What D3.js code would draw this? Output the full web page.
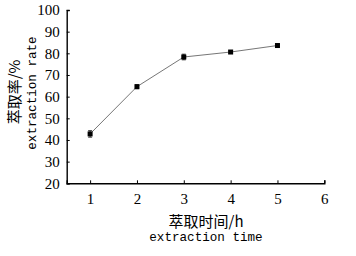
<!DOCTYPE html>
<html><head><meta charset="utf-8">
<script src="https://cdn.jsdelivr.net/npm/d3@7"></script>
<style>body{margin:0;background:#fff}</style>
</head><body>
<svg id="c" width="356" height="256"></svg>
<script>
const times = [1, 2, 3, 4, 5];
const rates = [42.8, 64.6, 78.3, 80.6, 83.6];
const errs = [1.5, 0.9, 1.3, 0.5, 0.5];
const xTicks = [1, 2, 3, 4, 5, 6];
const yTicks = [20, 30, 40, 50, 60, 70, 80, 90, 100];

const svg = d3.select("#c");
const x = d3.scaleLinear().domain([0.5, 6]).range([66.7, 324.3]);
const y = d3.scaleLinear().domain([20, 100]).range([183.3, 10]);
const numFont = "'Liberation Serif', 'DejaVu Serif', serif";

// axes
const gx = svg.append("g").attr("transform", `translate(0,${y(20)})`)
  .call(d3.axisBottom(x).tickValues(xTicks).tickSize(-3).tickPadding(10).tickFormat(d3.format("d")));
const gy = svg.append("g").attr("transform", `translate(${x(0.5)},0)`)
  .call(d3.axisLeft(y).tickValues(yTicks).tickSize(-3).tickPadding(7).tickFormat(d3.format("d")));
[gx, gy].forEach(g => {
  g.select(".domain").attr("stroke", "#000").attr("stroke-width", 1.4);
  g.selectAll(".tick line").attr("stroke", "#000").attr("stroke-width", 1);
  g.selectAll("text").attr("font-family", numFont).attr("font-size", 15).attr("fill", "#000");
});

// line
svg.append("path").datum(times.map((t, i) => [t, rates[i]]))
  .attr("fill", "none").attr("stroke", "#666").attr("stroke-width", 0.9)
  .attr("d", d3.line().x(d => x(d[0])).y(d => y(d[1])));

// error bars
const eb = svg.append("g").attr("stroke", "#222").attr("stroke-width", 0.9);
times.forEach((t, i) => {
  const cx = x(t), y1 = y(rates[i] - errs[i]), y2 = y(rates[i] + errs[i]);
  eb.append("line").attr("x1", cx).attr("x2", cx).attr("y1", y1).attr("y2", y2);
  eb.append("line").attr("x1", cx - 2).attr("x2", cx + 2).attr("y1", y1).attr("y2", y1);
  eb.append("line").attr("x1", cx - 2).attr("x2", cx + 2).attr("y1", y2).attr("y2", y2);
});

// markers
svg.append("g").selectAll("rect").data(times).join("rect")
  .attr("x", (d) => x(d) - 2.5).attr("y", (d, i) => y(rates[i]) - 2.5)
  .attr("width", 5).attr("height", 5).attr("fill", "#000");

// axis titles
const cjk = "'Noto Sans CJK SC', sans-serif";
const mono = "'Liberation Mono', 'DejaVu Sans Mono', monospace";
svg.append("text").attr("transform", "translate(20,92) rotate(-90)")
  .attr("text-anchor", "middle").attr("font-family", cjk).attr("font-size", 15).text("萃取率/%");
svg.append("text").attr("transform", "translate(36,93) rotate(-90)")
  .attr("text-anchor", "middle").attr("font-family", mono).attr("font-size", 12.6).text("extraction rate");
svg.append("text").attr("x", 206).attr("y", 227)
  .attr("text-anchor", "middle").attr("font-family", cjk).attr("font-size", 15).text("萃取时间/h");
svg.append("text").attr("x", 206).attr("y", 241)
  .attr("text-anchor", "middle").attr("font-family", mono).attr("font-size", 12.6).text("extraction time");
</script>
</body></html>
